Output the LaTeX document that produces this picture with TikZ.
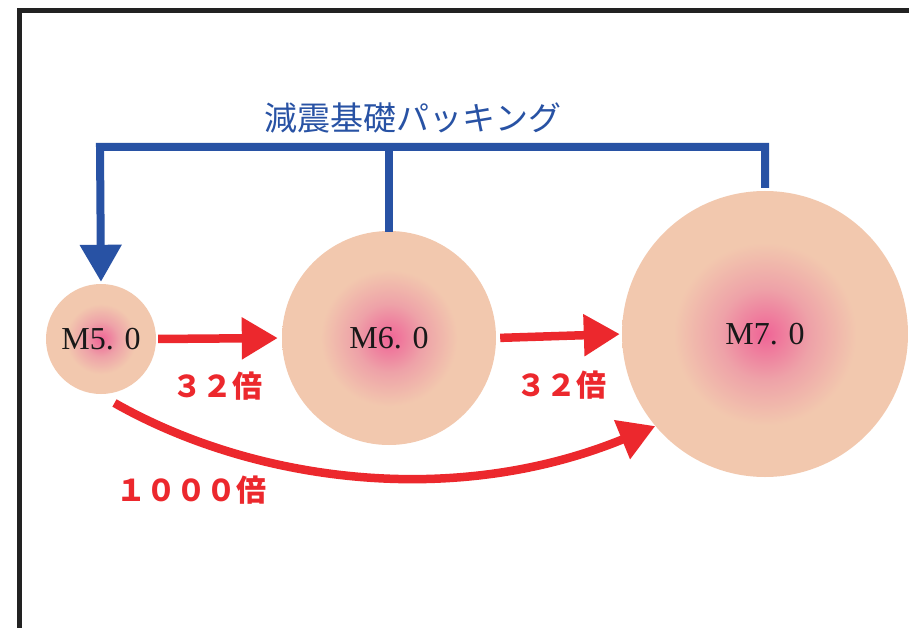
\documentclass[tikz,border=0pt]{standalone}
\usepackage{fontspec}
\usetikzlibrary{arrows.meta}
\newfontfamily\jpfont{Noto Sans CJK JP}
\newfontfamily\numfont{Liberation Serif}
\definecolor{qpink}{RGB}{239,100,150}
\definecolor{qmid}{RGB}{238,162,168}
\definecolor{qpeach}{RGB}{242,200,174}
\definecolor{qblue}{RGB}{40,82,164}
\definecolor{qred}{RGB}{236,40,45}
\definecolor{qframe}{RGB}{34,34,34}
\pgfdeclareradialshading{quake}{\pgfpointorigin}{color(0bp)=(qpink); color(8bp)=(qmid); color(16bp)=(qpeach); color(50bp)=(qpeach)}
\tikzset{
  quakecircle/.style={circle, minimum size=#1, inner sep=0pt, shading=quake, font=\numfont\fontsize{32}{32}\selectfont, text=black!90},
  redarrow/.style={draw=qred, line width=8.5pt, -{Triangle[length=36pt,width=40pt]}},
  bluebar/.style={draw=qblue, line width=8pt, line join=miter},
  redlabel/.style={text=qred, font=\jpfont\bfseries\fontsize{30}{30}\selectfont, inner sep=0pt},
  bluelabel/.style={text=qblue, font=\jpfont\fontsize{33}{33}\selectfont, inner sep=0pt}
}
\begin{document}
\begin{tikzpicture}[x=1pt,y=-1pt]
\clip (0,0) rectangle (909,628);
\fill[white] (0,0) rectangle (909,628);
\draw[qframe, line width=5pt] (19.5,10.5) rectangle (940,660);
% circles
\node[quakecircle=110pt] (c5) at (101,339) {M5. 0};
\node[quakecircle=214pt] (c6) at (389,338) {M6. 0};
\node[quakecircle=286pt] (c7) at (765,334) {M7. 0};
% title and blue bracket
\node[bluelabel] (title) at (413,118) {減震基礎パッキング};
\coordinate (tl) at (100,147);
\draw[bluebar, -{Triangle[length=37pt,width=40pt]}] ([yshift=3pt]c7.north) -- (c7.north |- tl) -- (tl) -- ([yshift=2pt]c5.north);
\draw[bluebar] ([yshift=-1pt]c6.north) -- (c6.north |- tl);
% red arrows
\draw[redarrow, shorten <=2pt, shorten >=4pt] (c5.east) -- (c6.west);
\draw[redarrow, shorten <=4pt, shorten >=2pt] (c6.east) -- (c7.west);
\draw[redarrow] ([xshift=2pt,yshift=-10pt]c5.-78) .. controls (250,480) and (450,510) .. (c7.220);
% labels
\node[redlabel] (l1) at (217,386) {３２倍};
\node[redlabel] (l2) at (561,385) {３２倍};
\node[redlabel] (l3) at (191,490) {１０００倍};
\end{tikzpicture}
\end{document}
